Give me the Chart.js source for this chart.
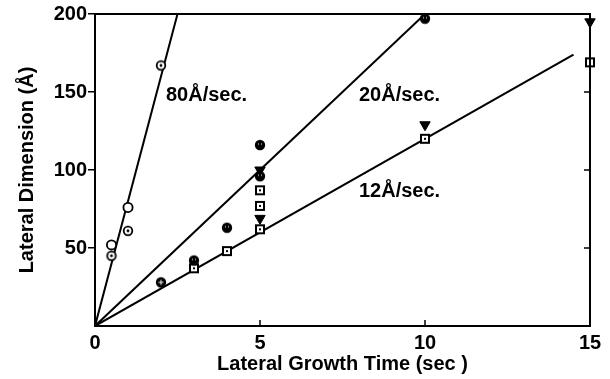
<!DOCTYPE html>
<html>
<head>
<meta charset="utf-8">
<script src="https://cdn.jsdelivr.net/npm/chart.js@4.4.1/dist/chart.umd.min.js"></script>
<style>
  html, body { margin: 0; padding: 0; background: #fff; }
</style>
</head>
<body>
<canvas id="growth" width="610" height="379"></canvas>
<script>
// lateral growth time (sec) / lateral dimension (Å), one pair per marker type
const openCircleT = [0.5, 1];
const openCircleV = [52, 76];
const dotCircleT = [0.5, 1, 2];
const dotCircleV = [45, 61, 167];
const crossCircleT = [2];
const crossCircleV = [28];
const filledCircleT = [3, 4, 5, 5, 10];
const filledCircleV = [42, 63, 116, 96, 197];
const squareT = [3, 4, 5, 5, 5, 10, 15];
const squareV = [37, 48, 87, 77, 62, 120, 169];
const triangleT = [5, 5, 10, 15];
const triangleV = [100, 69, 129, 195];

// fitted growth-rate lines (start at origin)
const fitLabels = ['80Å/sec.', '20Å/sec.', '12Å/sec.'];
const fitEndT = [2.5, 10, 14.5];
const fitEndV = [200, 200, 174];

const xTicks = [0, 5, 10, 15];
const yTicks = [50, 100, 150, 200];

const FONT = 'Liberation Sans, Arial, Helvetica, sans-serif';

const pts = (t, v) => t.map((x, i) => ({ x: x, y: v[i] }));

function marker(draw) {
  const c = document.createElement('canvas');
  c.width = 14; c.height = 14;
  const g = c.getContext('2d');
  g.translate(7, 7);
  g.lineWidth = 1.8;
  g.strokeStyle = '#000';
  g.fillStyle = '#000';
  draw(g);
  return c;
}

const dotCircle = marker(g => {
  g.beginPath(); g.arc(0, 0, 4.3, 0, Math.PI * 2);
  g.fillStyle = '#fff'; g.fill(); g.stroke();
  g.fillStyle = '#000';
  g.beginPath(); g.arc(0, 0, 1.4, 0, Math.PI * 2); g.fill();
});
const crossCircle = marker(g => {
  g.beginPath(); g.arc(0, 0, 5.2, 0, Math.PI * 2); g.fill();
  g.strokeStyle = '#fff'; g.lineWidth = 1;
  g.beginPath(); g.moveTo(-2.5, 0); g.lineTo(2.5, 0); g.moveTo(0, -2.5); g.lineTo(0, 2.5); g.stroke();
});
const filledCircle = marker(g => {
  g.beginPath(); g.arc(0, 0, 5.2, 0, Math.PI * 2); g.fill();
  g.fillStyle = '#fff';
  g.fillRect(-2, -1.5, 1, 1); g.fillRect(1, -1.5, 1, 1);
});
const dotSquare = marker(g => {
  g.fillStyle = '#fff'; g.fillRect(-4, -4, 8, 8);
  g.lineWidth = 2; g.strokeRect(-4, -4, 8, 8);
  g.fillStyle = '#000'; g.fillRect(-1, -1, 2, 2);
});

function scatterSet(t, v, style, extra) {
  return Object.assign({
    type: 'scatter',
    data: pts(t, v),
    pointStyle: style,
    pointRadius: 5,
    pointHoverRadius: 5,
    clip: false,
    order: 1
  }, extra || {});
}

const fitSets = fitEndT.map((t, i) => ({
  type: 'line',
  label: fitLabels[i],
  data: [{ x: 0, y: 0 }, { x: t, y: fitEndV[i] }],
  borderColor: '#000',
  borderWidth: 2,
  pointRadius: 0,
  fill: false,
  order: 2
}));

// rate labels written next to each line, in data coordinates
const labelPos = [[2.15, 144], [8.0, 144], [8.0, 83]];

const annotations = {
  id: 'annotations',
  afterDatasetsDraw(chart) {
    const { ctx, scales: { x, y } } = chart;
    ctx.save();
    ctx.font = 'bold 20px ' + FONT;
    ctx.fillStyle = '#000';
    ctx.textAlign = 'left';
    ctx.textBaseline = 'alphabetic';
    fitLabels.forEach((txt, i) => {
      ctx.fillText(txt, x.getPixelForValue(labelPos[i][0]), y.getPixelForValue(labelPos[i][1]));
    });
    ctx.restore();
  }
};

// closed frame with inward ticks on top/right/bottom
const frame = {
  id: 'frame',
  afterDraw(chart) {
    const { ctx, chartArea: a, scales: { x, y } } = chart;
    ctx.save();
    ctx.strokeStyle = '#000';
    ctx.lineWidth = 2;
    ctx.beginPath();
    ctx.moveTo(a.left, a.top); ctx.lineTo(a.right, a.top); ctx.lineTo(a.right, a.bottom);
    ctx.stroke();
    ctx.lineWidth = 1.5;
    ctx.beginPath();
    [5, 10].forEach(v => {
      const px = x.getPixelForValue(v);
      ctx.moveTo(px, a.bottom); ctx.lineTo(px, a.bottom - 6);
    });
    [50, 100, 150].forEach(v => {
      const py = y.getPixelForValue(v);
      ctx.moveTo(a.right, py); ctx.lineTo(a.right - 6, py);
    });
    ctx.stroke();
    ctx.restore();
  }
};

new Chart(document.getElementById('growth'), {
  data: {
    datasets: [
      ...fitSets,
      scatterSet(openCircleT, openCircleV, 'circle', { backgroundColor: '#fff', borderColor: '#000', borderWidth: 1.8, pointRadius: 4.6 }),
      scatterSet(dotCircleT, dotCircleV, dotCircle),
      scatterSet(crossCircleT, crossCircleV, crossCircle),
      scatterSet(filledCircleT, filledCircleV, filledCircle),
      scatterSet(squareT, squareV, dotSquare),
      scatterSet(triangleT, triangleV, 'triangle', { rotation: 180, backgroundColor: '#000', borderColor: '#000', borderWidth: 1, pointRadius: 6 })
    ]
  },
  options: {
    responsive: false,
    animation: false,
    devicePixelRatio: 1,
    layout: { padding: { top: 14, right: 20, left: 0, bottom: 0 } },
    plugins: { legend: { display: false }, tooltip: { enabled: false } },
    scales: {
      x: {
        type: 'linear',
        min: 0, max: 15,
        afterBuildTicks: s => { s.ticks = xTicks.map(v => ({ value: v })); },
        afterFit: s => { s.height = 53; },
        grid: { display: false },
        border: { display: true, color: '#000', width: 2 },
        ticks: { color: '#000', padding: -3, maxRotation: 0, font: { family: FONT, size: 20, weight: 'bold' } },
        title: {
          display: true, text: 'Lateral Growth Time (sec )', color: '#000',
          font: { family: FONT, size: 20, weight: 'bold' }, padding: { top: 0, bottom: 3 }
        }
      },
      y: {
        type: 'linear',
        min: 0, max: 200,
        afterBuildTicks: s => { s.ticks = yTicks.map(v => ({ value: v })); },
        afterFit: s => { s.width = 95; },
        grid: { drawOnChartArea: false, drawTicks: true, tickLength: 7, color: '#000', lineWidth: 1.5 },
        border: { display: true, color: '#000', width: 2 },
        ticks: { color: '#000', padding: 1, font: { family: FONT, size: 20, weight: 'bold' } },
        title: {
          display: true, text: 'Lateral Dimension (Å)', color: '#000',
          font: { family: FONT, size: 20, weight: 'bold' }, padding: { top: 15, bottom: 0 }
        }
      }
    }
  },
  plugins: [annotations, frame]
});
</script>
</body>
</html>
